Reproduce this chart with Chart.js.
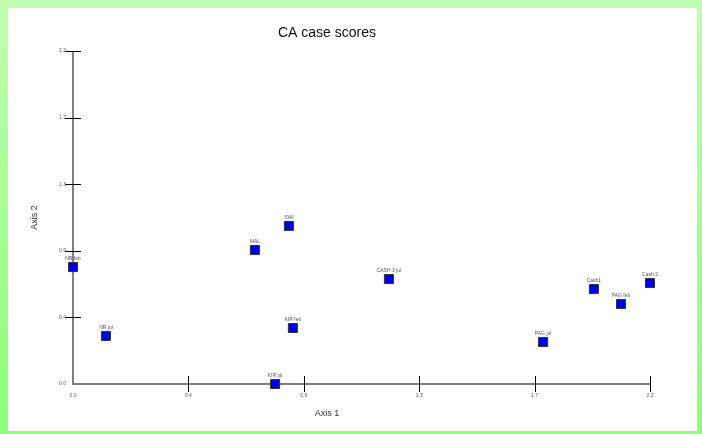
<!DOCTYPE html>
<html>
<head>
<meta charset="utf-8">
<script src="https://cdn.jsdelivr.net/npm/chart.js@4"></script>
<style>
  html, body { margin: 0; padding: 0; }
  body {
    width: 702px; height: 434px; position: relative; overflow: hidden;
    background: linear-gradient(to bottom, #bfffb0, #8cff78);
  }
  #panel {
    position: absolute; left: 8px; top: 8px; width: 689px; height: 423px;
    background: #fff;
  }
</style>
</head>
<body>
<div id="panel"><canvas id="ca__chart" width="689" height="423"></canvas></div>
<script>
// case labels and their CA scores
const caseLabels = ['NR feb', 'NR jul', 'MAL', 'SWI', 'KIR feb', 'KIR jul', 'CASH 3 jul', 'PAG jul', 'Cash1', 'PAG feb', 'Cash 2'];
const axis1 = [0.00, 0.124, 0.684, 0.812, 0.827, 0.760, 1.188, 1.768, 1.959, 2.061, 2.170];
const axis2 = [0.762, 0.313, 0.873, 1.030, 0.365, 0.000, 0.684, 0.274, 0.619, 0.521, 0.658];

const axisMax = 2.17;
const tickValues = [0, 1, 2, 3, 4, 5].map(i => axisMax * i / 5);

const points = axis1.map((x, i) => ({ x, y: axis2[i] }));

const axesPlugin = {
    id: 'caAxes',
    beforeDatasetsDraw(chart) {
        const { ctx, chartArea, scales } = chart;
        const xs = scales.x, ys = scales.y;
        ctx.save();
        // axis lines
        ctx.strokeStyle = '#7f7f7f';
        ctx.lineWidth = 2;
        ctx.beginPath();
        ctx.moveTo(chartArea.left, chartArea.top);
        ctx.lineTo(chartArea.left, chartArea.bottom);
        ctx.lineTo(chartArea.right, chartArea.bottom);
        ctx.stroke();

        // ticks crossing the axes
        ctx.strokeStyle = '#000';
        ctx.lineWidth = 1;
        tickValues.forEach((v, i) => {
            if (i === 0) return;
            const px = Math.round(xs.getPixelForValue(v)) + 0.5;
            const py = Math.round(ys.getPixelForValue(v)) + 0.5;
            ctx.beginPath();
            ctx.moveTo(px, chartArea.bottom - 8);
            ctx.lineTo(px, chartArea.bottom + 8);
            ctx.moveTo(chartArea.left - 8, py);
            ctx.lineTo(chartArea.left + 8, py);
            ctx.stroke();
        });

        // tick labels
        ctx.fillStyle = '#555';
        ctx.font = '5px "Liberation Sans", Arial, sans-serif';
        tickValues.forEach(v => {
            const label = v.toFixed(1);
            ctx.textAlign = 'center';
            ctx.textBaseline = 'middle';
            ctx.fillText(label, xs.getPixelForValue(v), chartArea.bottom + 12);
            ctx.textAlign = 'right';
            ctx.fillText(label, chartArea.left - 7, ys.getPixelForValue(v));
        });

        // titles
        ctx.fillStyle = '#111';
        ctx.textAlign = 'center';
        ctx.textBaseline = 'middle';
        ctx.font = '14px "Liberation Sans", Arial, sans-serif';
        ctx.fillText('CA case scores', 319, 25);
        ctx.fillStyle = '#333';
        ctx.font = '9px "Liberation Sans", Arial, sans-serif';
        ctx.fillText('Axis 1', 319, 406);
        ctx.translate(27, (chartArea.top + chartArea.bottom) / 2);
        ctx.rotate(-Math.PI / 2);
        ctx.fillText('Axis 2', 0, 0);
        ctx.restore();
    },
    afterDatasetsDraw(chart) {
        const { ctx } = chart;
        const meta = chart.getDatasetMeta(0);
        ctx.save();
        ctx.fillStyle = '#555';
        ctx.font = '5px "Liberation Sans", Arial, sans-serif';
        ctx.textAlign = 'center';
        ctx.textBaseline = 'bottom';
        meta.data.forEach((pt, i) => {
            ctx.fillText(caseLabels[i], pt.x, pt.y - 6);
        });
        ctx.restore();
    }
};

const ctx = document.getElementById('ca__chart').getContext('2d');

const myChart = new Chart(ctx, {
    type: 'scatter',
    data: {
        datasets: [{
            label: 'cases',
            data: points,
            pointStyle: 'rect',
            pointRadius: 6.4,
            pointHoverRadius: 6.4,
            backgroundColor: '#0000e6',
            borderColor: '#333',
            borderWidth: 1,
            clip: false,
        }]
    },
    options: {
        responsive: false,
        animation: false,
        events: [],
        layout: {
            padding: { left: 65, right: 47, top: 43, bottom: 47 }
        },
        plugins: {
            legend: { display: false },
            tooltip: { enabled: false },
        },
        scales: {
            x: { type: 'linear', min: 0, max: axisMax, display: false },
            y: { type: 'linear', min: 0, max: axisMax, display: false },
        }
    },
    plugins: [axesPlugin]
});
</script>
</body>
</html>
